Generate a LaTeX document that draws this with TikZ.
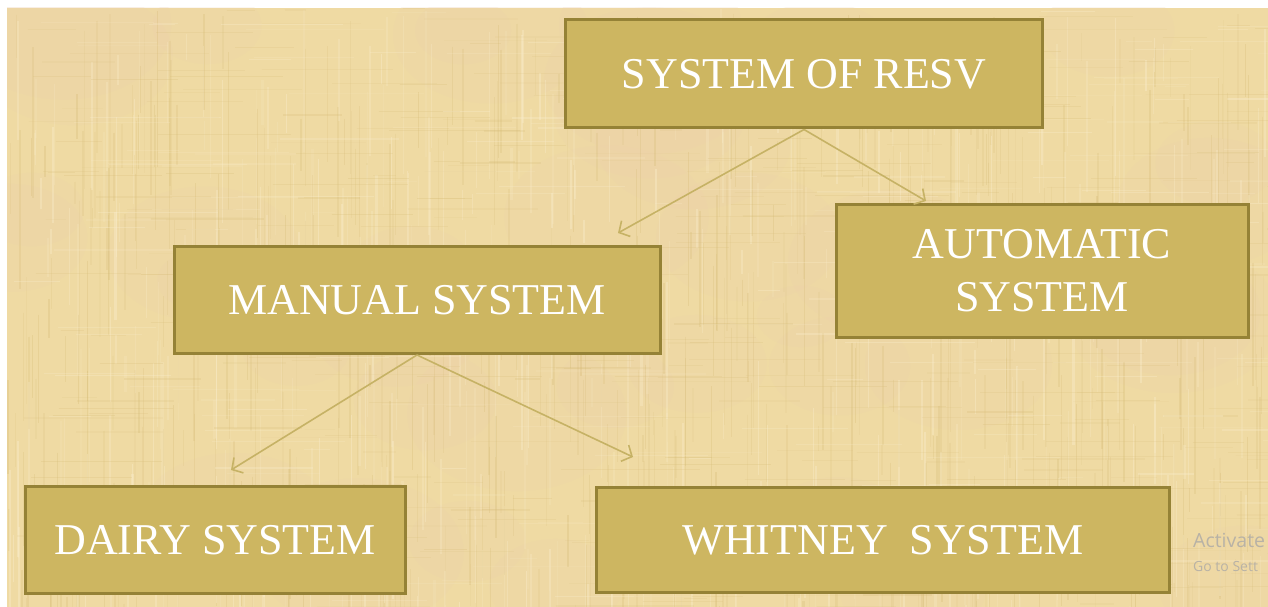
\documentclass[tikz,border=0pt]{standalone}
\usepackage{fontspec}
\setmainfont{Liberation Serif}
\newfontfamily\uifont{Open Sans}
\usetikzlibrary{arrows.meta}

\definecolor{paper}{HTML}{EFDAA3}
\definecolor{paperdark}{HTML}{D5BA74}
\definecolor{paperlight}{HTML}{FAEDCB}
\definecolor{paperpink}{HTML}{EDCFAE}
\definecolor{boxfill}{HTML}{CDB661}
\definecolor{boxline}{HTML}{958236}
\definecolor{linkcol}{HTML}{C6B265}
\definecolor{wmark}{HTML}{B8B2A6}

\tikzset{
  sysbox/.style={draw=boxline, line width=3pt, fill=boxfill, text=white,
    font=\fontsize{44}{53}\selectfont, align=center, inner sep=0pt},
  link/.style={draw=linkcol, line width=1.6pt,
    -{Straight Barb[length=8pt,width=18pt,line width=1.6pt]}},
  wmtext/.style={anchor=base west, text=wmark, inner sep=0pt},
}

\begin{document}
\begin{tikzpicture}[x=1pt,y=-1pt]
\useasboundingbox (0,0) rectangle (1268,607);
\clip (0,0) rectangle (1268,607);
\fill[white] (0,0) rectangle (1268,607);
\fill[paper] (7,8) rectangle (1268,607);

% woven parchment texture: fine threads along and across the grain
\begin{scope}
  \clip (7,8) rectangle (1268,607);
  \pgfmathsetseed{41}
  \foreach \i in {1,...,40}{
    \pgfmathsetmacro{\xx}{7+1261*rnd}
    \pgfmathsetmacro{\yy}{8+599*rnd}
    \pgfmathsetmacro{\rr}{40+70*rnd}
    \fill[paperpink, opacity=0.18] (\xx,\yy) ellipse ({\rr} and {\rr*0.7});
  }
  \foreach \i in {1,...,520}{
    \pgfmathsetmacro{\xx}{7+1261*rnd}
    \pgfmathsetmacro{\yy}{8+599*rnd}
    \pgfmathsetmacro{\ll}{20+140*rnd}
    \pgfmathsetmacro{\ww}{0.5+1.6*rnd}
    \pgfmathsetmacro{\op}{0.08+0.22*rnd}
    \draw[paperdark, line width=\ww pt, opacity=\op] (\xx,\yy) -- (\xx,\yy+\ll);
  }
  \foreach \i in {1,...,420}{
    \pgfmathsetmacro{\xx}{7+1261*rnd}
    \pgfmathsetmacro{\yy}{8+599*rnd}
    \pgfmathsetmacro{\ll}{20+140*rnd}
    \pgfmathsetmacro{\ww}{0.5+2*rnd}
    \pgfmathsetmacro{\op}{0.12+0.3*rnd}
    \draw[paperlight, line width=\ww pt, opacity=\op] (\xx,\yy) -- (\xx,\yy+\ll);
  }
  \foreach \i in {1,...,380}{
    \pgfmathsetmacro{\xx}{7+1261*rnd}
    \pgfmathsetmacro{\yy}{8+599*rnd}
    \pgfmathsetmacro{\ll}{20+120*rnd}
    \pgfmathsetmacro{\ww}{0.5+1.2*rnd}
    \pgfmathsetmacro{\op}{0.06+0.18*rnd}
    \draw[paperdark, line width=\ww pt, opacity=\op] (\xx,\yy) -- (\xx+\ll,\yy);
  }
  \foreach \i in {1,...,200}{
    \pgfmathsetmacro{\xx}{7+1261*rnd}
    \pgfmathsetmacro{\yy}{8+599*rnd}
    \pgfmathsetmacro{\ll}{20+120*rnd}
    \pgfmathsetmacro{\ww}{0.5+1.2*rnd}
    \pgfmathsetmacro{\op}{0.1+0.25*rnd}
    \draw[paperlight, line width=\ww pt, opacity=\op] (\xx,\yy) -- (\xx+\ll,\yy);
  }
\end{scope}

% boxes
\node[sysbox, minimum width=477pt, minimum height=108pt] (resv)    at (804,74)  {SYSTEM OF RESV};
\node[sysbox, minimum width=486pt, minimum height=107pt] (manual)  at (417,300) {MANUAL SYSTEM};
\node[sysbox, minimum width=412pt, minimum height=133pt] (auto)    at (1042,271) {AUTOMATIC\\SYSTEM};
\node[sysbox, minimum width=380pt, minimum height=107pt] (dairy)   at (215,540) {DAIRY SYSTEM};
\node[sysbox, minimum width=573pt, minimum height=105pt] (whitney) at (883,540) {WHITNEY\ \ SYSTEM};

% arrow tips stop short of the boxes below
\coordinate (tipmanual)  at (618,233);
\coordinate (tipauto)    at (926,201);
\coordinate (tipdairy)   at (231,470);
\coordinate (tipwhitney) at (633,457);

\draw[link] (resv.south)   -- (tipmanual);
\draw[link] (resv.south)   -- (tipauto);
\draw[link] (manual.south) -- (tipdairy);
\draw[link] (manual.south) -- (tipwhitney);

% system watermark in the corner
\node[wmtext, font=\uifont\fontsize{19.5}{22}\selectfont] (wmone) at (1193,547) {Activate};
\node[wmtext, font=\uifont\fontsize{14}{16}\selectfont] (wmtwo) at (1193,571) {Go to Sett};
\end{tikzpicture}
\end{document}
